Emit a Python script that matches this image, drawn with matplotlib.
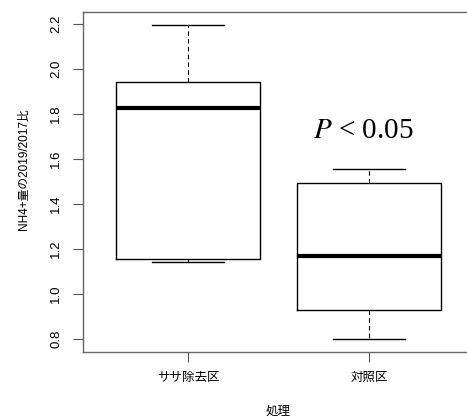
import matplotlib
matplotlib.use('Agg')
import matplotlib.pyplot as plt

plt.rcParams['font.family'] = ['Liberation Sans', 'Noto Sans CJK JP', 'DejaVu Sans']
plt.rcParams['mathtext.fontset'] = 'stix'

# Box statistics
groups = ['ササ除去区', '対照区']
whisker_low = [1.141, 0.799]
q1 = [1.154, 0.927]
medians = [1.827, 1.169]
q3 = [1.942, 1.492]
whisker_high = [2.196, 1.557]

y_ticks = [0.8, 1.0, 1.2, 1.4, 1.6, 1.8, 2.0, 2.2]
y_label = 'NH4+量の2019/2017比'
x_label = '処理'
p_text = '$P$ < 0.05'

stats = []
for i, name in enumerate(groups):
    stats.append({'label': name, 'whislo': whisker_low[i], 'q1': q1[i],
                  'med': medians[i], 'q3': q3[i], 'whishi': whisker_high[i],
                  'fliers': []})

fig = plt.figure(figsize=(4.67, 4.18), dpi=100)
ax = fig.add_axes([83 / 467, 66.4 / 418, 391 / 467, 339.3 / 418])

ax.bxp(stats, positions=[1, 2], widths=0.8, showfliers=False,
       boxprops=dict(color='black', linewidth=1.0),
       medianprops=dict(color='black', linewidth=3.0, solid_capstyle='butt'),
       whiskerprops=dict(color='black', linewidth=0.8, linestyle=(0, (4, 3))),
       capprops=dict(color='black', linewidth=1.0), capwidths=0.4)

ax.set_xlim(0.42, 2.58)
ax.set_ylim(0.743, 2.252)
ax.set_yticks(y_ticks)
ax.set_yticklabels([f'{v:.1f}' for v in y_ticks], rotation=90, va='center', fontsize=9.5)
ax.set_xticks([1, 2])
ax.set_xticklabels(groups, fontsize=9)
ax.tick_params(axis='both', length=7, width=0.8, color='#555555', pad=8)

for s in ax.spines.values():
    s.set_color('#666666')
    s.set_linewidth(1.0)

ax.set_ylabel(y_label, fontsize=8.5)
ax.yaxis.set_label_coords(-0.151, 0.538)
ax.yaxis.label.set_va('center')
ax.set_xlabel(x_label, fontsize=9)
ax.xaxis.set_label_coords(0.5, -0.178)
ax.xaxis.label.set_va('center')

ax.text(1.97, 1.693, p_text, ha='center', va='baseline', fontsize=21,
        family='Liberation Serif')

fig.savefig('out.png', dpi=100)
